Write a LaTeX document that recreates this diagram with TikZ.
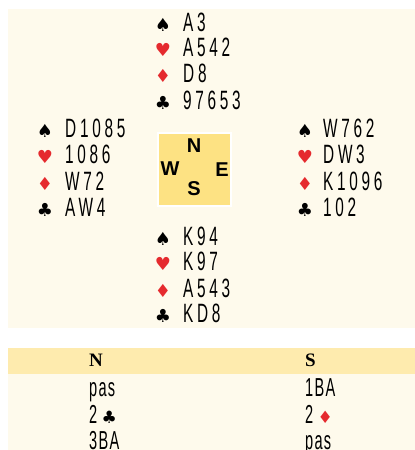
\documentclass[tikz,border=0pt]{standalone}
\usepackage{fontspec}
\setmainfont{Liberation Serif}
\newfontfamily\handfont[FakeStretch=0.58,LetterSpace=14]{Liberation Sans}
\newfontfamily\bidfont[FakeStretch=0.56,LetterSpace=5]{Liberation Sans}
\newfontfamily\suitfont{DejaVu Sans}
\newfontfamily\windfont{Liberation Sans}
\usepackage{tikz}
\usetikzlibrary{positioning}

\definecolor{panelcream}{HTML}{FEFAEC}
\definecolor{headbar}{HTML}{FEEBAE}
\definecolor{compassyellow}{HTML}{FDE283}
\definecolor{suitred}{HTML}{E52A2E}

\begin{document}
\begin{tikzpicture}[x=1pt,y=-1pt,
  hand/.style={anchor=base west,inner sep=0pt,font=\handfont\fontsize{26.5}{26}\selectfont},
  suit/.style={anchor=base,inner sep=0pt,font=\suitfont\fontsize{18}{18}\selectfont},
  redsuit/.style={suit,text=suitred},
  wind/.style={inner sep=0pt,font=\windfont\bfseries\fontsize{20}{20}\selectfont},
  bid/.style={anchor=base west,inner sep=0pt,font=\bidfont\fontsize{26}{26}\selectfont},
  seat/.style={anchor=base west,inner sep=0pt,font=\bfseries\fontsize{19}{19}\selectfont}]
\clip (0,0) rectangle (415,450);
\fill[white] (0,0) rectangle (415,450);
% deal
\fill[panelcream] (8,9) rectangle (415,328);
\fill[white] (157,132) rectangle (232,207);
\fill[compassyellow] (159,134) rectangle (230,205);
\node[wind] (wn) at (194,146) {N};
\node[wind] (ww) at (170,169) {W};
\node[wind] (we) at (222,170) {E};
\node[wind] (ws) at (194,189) {S};
% north
\node[suit] (ns) at (163,31) {♠}; \node[hand] (nst) at (183,31) {A3};
\node[redsuit] (nh) at (163,56) {♥}; \node[hand] (nht) at (183,56) {A542};
\node[redsuit] (nd) at (163,82) {♦}; \node[hand] (ndt) at (183,82) {D8};
\node[suit] (nc) at (163,109) {♣}; \node[hand] (nct) at (183,109) {97653};
% west
\node[suit] (wsp) at (45,137) {♠}; \node[hand] (wst) at (65,137) {D1085};
\node[redsuit] (wh) at (45,163) {♥}; \node[hand] (wht) at (65,163) {1086};
\node[redsuit] (wd) at (45,190) {♦}; \node[hand] (wdt) at (65,190) {W72};
\node[suit] (wc) at (45,216) {♣}; \node[hand] (wct) at (65,216) {AW4};
% east
\node[suit] (esp) at (305,137) {♠}; \node[hand] (est) at (323,137) {W762};
\node[redsuit] (eh) at (305,163) {♥}; \node[hand] (eht) at (323,163) {DW3};
\node[redsuit] (ed) at (305,190) {♦}; \node[hand] (edt) at (323,190) {K1096};
\node[suit] (ec) at (305,216) {♣}; \node[hand] (ect) at (323,216) {102};
% south
\node[suit] (ssp) at (163,245) {♠}; \node[hand] (sst) at (183,245) {K94};
\node[redsuit] (sh) at (163,270) {♥}; \node[hand] (sht) at (183,270) {K97};
\node[redsuit] (sd) at (163,297) {♦}; \node[hand] (sdt) at (183,297) {A543};
\node[suit] (sc) at (163,322) {♣}; \node[hand] (sct) at (183,322) {KD8};
% bidding
\fill[headbar] (8,348) rectangle (415,374);
\fill[panelcream] (8,374) rectangle (415,450);
\node[seat] (bn) at (89,366) {N};
\node[seat] (bs) at (305,366) {S};
\node[bid] (b1) at (89,396) {pas};
\node[bid] (b2) at (305,396) {1BA};
\node[bid] (b3) at (89,423) {2\,{\suitfont\fontsize{17}{17}\selectfont ♣}};
\node[bid] (b4) at (305,423) {2\,{\suitfont\fontsize{17}{17}\selectfont\color{suitred}♦}};
\node[bid] (b5) at (89,449) {3BA};
\node[bid] (b6) at (305,449) {pas};
\end{tikzpicture}
\end{document}
